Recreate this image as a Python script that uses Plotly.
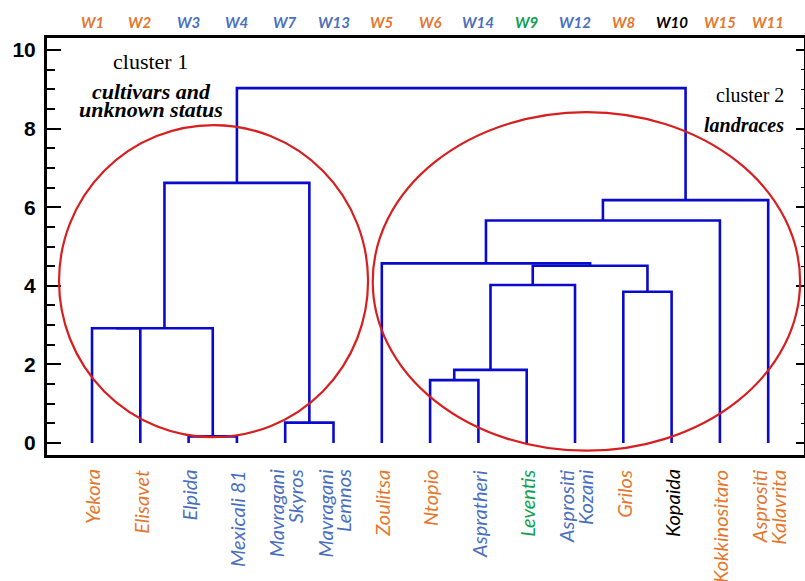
import plotly.graph_objects as go

# Leaves of the dendrogram, left to right
leaf_names = ["Yekora", "Elisavet", "Elpida", "Mexicali 81", "Mavragani<br>Skyros",
              "Mavragani<br>Lemnos", "Zoulitsa", "Ntopio", "Aspratheri", "Leventis",
              "Asprositi<br>Kozani", "Grilos", "Kopaida", "Kokkinositaro",
              "Asprositi<br>Kalavrita"]
leaf_codes = ["W1", "W2", "W3", "W4", "W7", "W13", "W5", "W6", "W14", "W9",
              "W12", "W8", "W10", "W15", "W11"]
leaf_group = ["orange", "orange", "blue", "blue", "blue", "blue", "orange", "orange",
              "blue", "green", "blue", "orange", "black", "orange", "orange"]

# Linkage: node ids 0..14 are leaves, each merge creates node 15, 16, ...
merge_left = [2, 4, 0, 17, 18, 7, 20, 21, 11, 22, 6, 25, 26, 19]
merge_right = [3, 5, 1, 15, 16, 8, 9, 10, 12, 23, 24, 13, 14, 27]
merge_height = [0.17, 0.52, 2.92, 2.92, 6.62, 1.60, 1.86, 4.02, 3.85, 4.51,
                4.57, 5.66, 6.18, 9.03]

group_colors = {"orange": "#E4772F", "blue": "#4A6FC0", "green": "#10A050", "black": "#000000"}

# Node coordinates: leaves at their index, merges at the mean of their children
n_leaves = len(leaf_names)
node_x = {i: float(i) for i in range(n_leaves)}
node_h = {i: 0.0 for i in range(n_leaves)}
xs, ys = [], []
for k, (a, b, h) in enumerate(zip(merge_left, merge_right, merge_height)):
    nid = n_leaves + k
    xa, xb = node_x[a], node_x[b]
    xs += [xa, xa, xb, xb, None]
    ys += [node_h[a], h, h, node_h[b], None]
    node_x[nid] = (xa + xb) / 2
    node_h[nid] = h

fig = go.Figure()
fig.add_trace(go.Scatter(x=xs, y=ys, mode="lines",
                         line=dict(color="#0A0ACD", width=2.6),
                         hoverinfo="skip", showlegend=False))
# dummy trace so the right-hand axis is drawn
fig.add_trace(go.Scatter(x=[0], y=[0], yaxis="y2", mode="markers",
                         marker=dict(opacity=0), hoverinfo="skip", showlegend=False))

# Cluster outlines
fig.add_shape(type="circle", xref="x", yref="y", x0=-0.683, x1=5.715, y0=0.15, y1=8.09,
              line=dict(color="#D81E1E", width=2.2))
fig.add_shape(type="circle", xref="x", yref="y", x0=5.812, x1=14.66, y0=-0.196, y1=8.42,
              line=dict(color="#D81E1E", width=2.2))

# Leaf names under the axis (two-line names set as two tight columns) and codes above
for i, (name, code, grp) in enumerate(zip(leaf_names, leaf_codes, leaf_group)):
    c = group_colors[grp]
    parts = name.split("<br>")
    shifts = [0] if len(parts) == 1 else [-9.5, 9.5]
    for part, dx in zip(parts, shifts):
        fig.add_annotation(x=i, y=-0.03, xref="x", yref="paper", text=part, xshift=dx,
                           textangle=-90, xanchor="center", yanchor="top",
                           showarrow=False,
                           font=dict(family="Lato", size=20, color=c, style="italic"))
    fig.add_annotation(x=i, y=1.0, xref="x", yref="paper", yshift=16, text=code,
                       xanchor="center", yanchor="middle", showarrow=False,
                       font=dict(family="Lato", size=15, color=c, style="italic", weight="bold"))

W, H = 805, 581
ML, MR, MT, MB = 47, 1, 38, 126


def px_note(px, py, text, size, anchor="center", bold_italic=False):
    """Place a serif caption at a pixel position of the page."""
    font = dict(family="Liberation Serif", size=size, color="black")
    if bold_italic:
        font.update(style="italic", weight="bold")
    fig.add_annotation(x=(px - ML) / (W - ML - MR), y=1 - (py - MT) / (H - MT - MB),
                       xref="paper", yref="paper", text=text, showarrow=False,
                       xanchor=anchor, yanchor="middle", font=font)


px_note(150, 61, "cluster 1", 22)
px_note(151, 91, "cultivars and", 22, bold_italic=True)
px_note(151, 109, "unknown status", 22, bold_italic=True)
px_note(786, 95, "cluster 2", 20, anchor="right")
px_note(786, 125, "landraces", 20, anchor="right", bold_italic=True)

fig.update_layout(
    width=W, height=H,
    margin=dict(l=ML, r=MR, t=MT, b=MB),
    paper_bgcolor="white", plot_bgcolor="white",
    showlegend=False,
    xaxis=dict(range=[-0.932, 14.741], showgrid=False, zeroline=False,
               showticklabels=False, ticks="", showline=True, linecolor="black",
               linewidth=3, mirror=True),
    yaxis=dict(range=[-0.305, 10.305], showgrid=False, zeroline=False,
               tickmode="linear", tick0=0, dtick=2, ticks="inside", ticklen=14,
               tickwidth=2, tickcolor="black", showline=True, linecolor="black",
               linewidth=3, ticklabelstandoff=4,
               tickfont=dict(family="Liberation Sans", size=21, color="black", weight="bold"),
               minor=dict(dtick=0.5, ticks="inside", ticklen=8, tickwidth=2, tickcolor="black")),
    yaxis2=dict(range=[-0.305, 10.305], overlaying="y", side="right", showgrid=False,
                zeroline=False, showticklabels=False, tickmode="linear", tick0=0, dtick=2,
                ticks="inside", ticklen=8, tickwidth=2, tickcolor="black",
                showline=True, linecolor="black", linewidth=2,
                minor=dict(dtick=0.5, ticks="inside", ticklen=3, tickwidth=1, tickcolor="black")),
)

fig.write_html("out.html")
